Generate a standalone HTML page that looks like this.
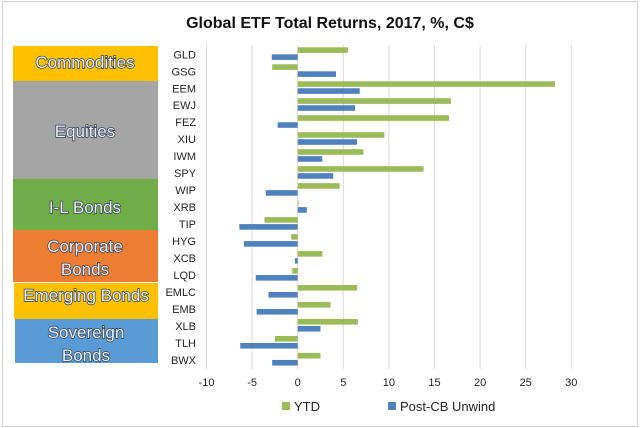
<!DOCTYPE html>
<html><head><meta charset="utf-8"><style>
body{margin:0;background:#fff;}
svg{display:block;font-family:"Liberation Sans",sans-serif;}
.box text{font-size:17px;fill:#eef2f7;stroke:#2e3d55;stroke-width:1.4px;paint-order:stroke;}
</style></head><body>
<svg id="chart" width="640" height="428" viewBox="0 0 640 428">
<rect x="2.5" y="1.5" width="635" height="425" fill="#fff" stroke="#d0d0d0"/>
<text x="330" y="28" text-anchor="middle" font-size="16" font-weight="bold" fill="#111">Global ETF Total Returns, 2017, %, C$</text>
<g class="box">
<rect x="13" y="46" width="145" height="35" fill="#ffc000"/>
<text x="85" y="68" text-anchor="middle">Commodities</text>
<rect x="13" y="81" width="145" height="98" fill="#a5a5a5"/>
<text x="85" y="137" text-anchor="middle">Equities</text>
<rect x="13" y="179" width="145" height="51" fill="#70ad47"/>
<text x="85" y="213" text-anchor="middle">I-L Bonds</text>
<rect x="13" y="230" width="145" height="52" fill="#ed7d31"/>
<text x="85" y="252" text-anchor="middle">Corporate</text>
<text x="85" y="275" text-anchor="middle">Bonds</text>
<rect x="14" y="283" width="144" height="36" fill="#ffc000"/>
<text x="86" y="301" text-anchor="middle">Emerging Bonds</text>
<rect x="15" y="319" width="143" height="44" fill="#5b9bd5"/>
<text x="86" y="338" text-anchor="middle">Sovereign</text>
<text x="86" y="361" text-anchor="middle">Bonds</text>
</g>
<g id="grid"></g><g id="bars"></g><g id="labels"></g>
<rect x="282" y="402" width="8" height="8" fill="#9bbb59"/>
<text x="294" y="411" font-size="13" fill="#222">YTD</text>
<rect x="388" y="402" width="8" height="8" fill="#4f81bd"/>
<text x="400" y="411" font-size="13" fill="#222">Post-CB Unwind</text>
</svg>
<script>
const categories=["GLD","GSG","EEM","EWJ","FEZ","XIU","IWM","SPY","WIP","XRB","TIP","HYG","XCB","LQD","EMLC","EMB","XLB","TLH","BWX"];
const ytd=[5.5,-2.8,28.2,16.8,16.6,9.5,7.2,13.8,4.6,0.1,-3.65,-0.7,2.7,-0.6,6.5,3.6,6.6,-2.5,2.5];
const postCB=[-2.85,4.2,6.8,6.3,-2.2,6.5,2.7,3.9,-3.5,1.0,-6.4,-5.9,-0.3,-4.6,-3.2,-4.5,2.5,-6.3,-2.8];
const ticks=[-10,-5,0,5,10,15,20,25,30];
const NS="http://www.w3.org/2000/svg";
const x=v=>297.7+(v)*9.12;
const yc=i=>54.3+i*16.98;
const grid=document.getElementById('grid'),bars=document.getElementById('bars'),labels=document.getElementById('labels');
function mk(tag,attrs,parent){const e=document.createElementNS(NS,tag);for(const k in attrs)e.setAttribute(k,attrs[k]);parent.appendChild(e);return e;}
ticks.forEach(t=>{
 const l=mk('line',{x1:x(t),x2:x(t),y1:45,y2:369,stroke:'#d9d9d9','stroke-width':1},grid);
 
 
 const tx=mk('text',{x:x(t),y:386,'text-anchor':'middle','font-size':11,fill:'#222'},labels);
 tx.textContent=t;
 
 
});
categories.forEach((c,i)=>{
 const c0=yc(i);
 const a=ytd[i],b=postCB[i];
 const r1=mk('rect',{x:Math.min(x(0),x(a)),y:c0-7,width:Math.abs(x(a)-x(0)),height:5.6,fill:'#9bbb59'},bars);
 
 
 const r2=mk('rect',{x:Math.min(x(0),x(b)),y:c0+0,width:Math.abs(x(b)-x(0)),height:5.6,fill:'#4f81bd'},bars);
 
 
 const t=mk('text',{x:196,y:c0+4,'text-anchor':'end','font-size':11,fill:'#222'},labels);
 t.textContent=c;
 
 
});
</script>
</body></html>
